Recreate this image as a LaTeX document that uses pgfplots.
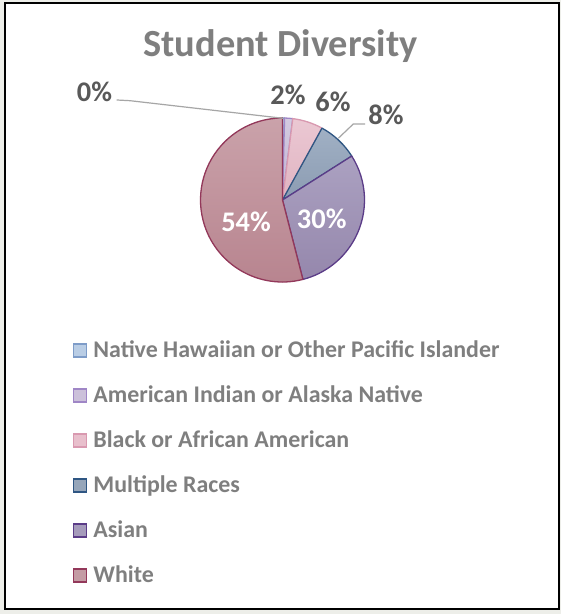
\documentclass[border=0pt]{standalone}
\usepackage{pgfplots}
\pgfplotsset{compat=1.18}
\usepackage{pgfplotstable}
\usepackage{fontspec}
\setmainfont{Carlito}

\definecolor{bggrey}{HTML}{EDEEE9}
\definecolor{titlegrey}{HTML}{7F7F7F}
\definecolor{labgrey}{HTML}{595959}
\definecolor{leadgrey}{HTML}{A6A6A6}
\definecolor{nhF}{HTML}{B9CDE5}\definecolor{nhD}{HTML}{7E9CC8}
\definecolor{aiF}{HTML}{CCC1DA}\definecolor{aiD}{HTML}{9F86C6}
\definecolor{blF}{HTML}{E8BFCC}\definecolor{blD}{HTML}{D999B0}
\definecolor{muF}{HTML}{96A6BA}\definecolor{muD}{HTML}{2F5683}
\definecolor{asF}{HTML}{A59BBB}\definecolor{asD}{HTML}{5B3C88}
\definecolor{whF}{HTML}{C49CA4}\definecolor{whD}{HTML}{93385A}
\definecolor{nhT}{HTML}{C6D6EA}\definecolor{nhB}{HTML}{B0C3DD}
\definecolor{aiT}{HTML}{D3CAE0}\definecolor{aiB}{HTML}{C3B6D3}
\definecolor{blT}{HTML}{EBC8D3}\definecolor{blB}{HTML}{E0B3C1}
\definecolor{muT}{HTML}{A0B0C4}\definecolor{muB}{HTML}{8C9CB2}
\definecolor{asT}{HTML}{ABA1C1}\definecolor{asB}{HTML}{9587AC}
\definecolor{whT}{HTML}{CAA2AA}\definecolor{whB}{HTML}{B7838E}

% share of students, per cent
\pgfplotstableread{
group value
NativeHawaiian 0.4
AmericanIndian 1.6
Black 6
Multiple 8
Asian 30
White 54
}\piedata

\begin{document}
\begin{tikzpicture}
\begin{axis}[
  scale only axis, width=561bp, height=614bp,
  xmin=0, xmax=561, ymin=0, ymax=614,
  hide axis, clip=false,
  legend style={
    at={(axis cs:72.5,272.4)}, anchor=north west,
    draw=none, fill=none, inner sep=0pt, outer sep=0pt,
    font=\bfseries\fontsize{24}{28}\selectfont, text=titlegrey,
    row sep=25bp,
    nodes={inner sep=0pt, text height=16bp, text depth=4bp},
    /tikz/every odd column/.append style={column sep=6.5bp},
  },
  legend cell align=left,
  legend image code/.code={\draw[#1, line width=1.4bp] (0bp,-5.5bp) rectangle (13bp,7.5bp);},
]
\pgfplotsextra{
  \fill[bggrey] (axis cs:0,0) rectangle (axis cs:561,614);
  \draw[black, line width=2bp, fill=white] (axis cs:5,4.8) rectangle (axis cs:559,610.7);
  \node[font=\bfseries\fontsize{38.5}{44}\selectfont, text=titlegrey, anchor=base] at (axis cs:280.5,557.3) {Student Diversity};
  \gdef\cum{0}
  \foreach \i/\tc/\bc/\dc in {0/nhT/nhB/nhD,1/aiT/aiB/aiD,2/blT/blB/blD,3/muT/muB/muD,4/asT/asB/asD,5/whT/whB/whD}{
    \pgfplotstablegetelem{\i}{value}\of\piedata
    \let\v\pgfplotsretval
    \pgfmathsetmacro\a{90-3.6*\cum}
    \pgfmathsetmacro\b{90-3.6*(\cum+\v)}
    \filldraw[top color=\tc, bottom color=\bc, draw=\dc, line width=1.3bp, line join=round]
      (axis cs:282.5,414) -- ++(\a:82bp) arc[start angle=\a, end angle=\b, radius=82bp] -- cycle;
    \pgfmathsetmacro\nc{\cum+\v}
    \xdef\cum{\nc}
  }
  % leader lines
  \draw[leadgrey, line width=1.2bp] (axis cs:116.7,514) -- (axis cs:130,513.3) -- (axis cs:283,495.7);
  \draw[leadgrey, line width=1.2bp] (axis cs:365,490) -- (axis cs:353.3,490) -- (axis cs:338.3,475.7);
  % data labels
  \tikzset{dl/.style={font=\bfseries\fontsize{28.5}{32}\selectfont, anchor=base, inner sep=0pt}}
  \node[dl, text=labgrey] at (axis cs:94.5,512) {0\%};
  \node[dl, text=labgrey] at (axis cs:288,509) {2\%};
  \node[dl, text=labgrey] at (axis cs:333,502.3) {6\%};
  \node[dl, text=labgrey] at (axis cs:386,489) {8\%};
  \node[dl, text=white] at (axis cs:321.7,385.7) {30\%};
  \node[dl, text=white] at (axis cs:246,382.3) {54\%};
}
\addlegendimage{fill=nhF, draw=nhD}\addlegendentry{Native Hawaiian or Other Pacific Islander}
\addlegendimage{fill=aiF, draw=aiD}\addlegendentry{American Indian or Alaska Native}
\addlegendimage{fill=blF, draw=blD}\addlegendentry{Black or African American}
\addlegendimage{fill=muF, draw=muD}\addlegendentry{Multiple Races}
\addlegendimage{fill=asF, draw=asD}\addlegendentry{Asian}
\addlegendimage{fill=whF, draw=whD}\addlegendentry{White}
\end{axis}
\end{tikzpicture}
\end{document}
